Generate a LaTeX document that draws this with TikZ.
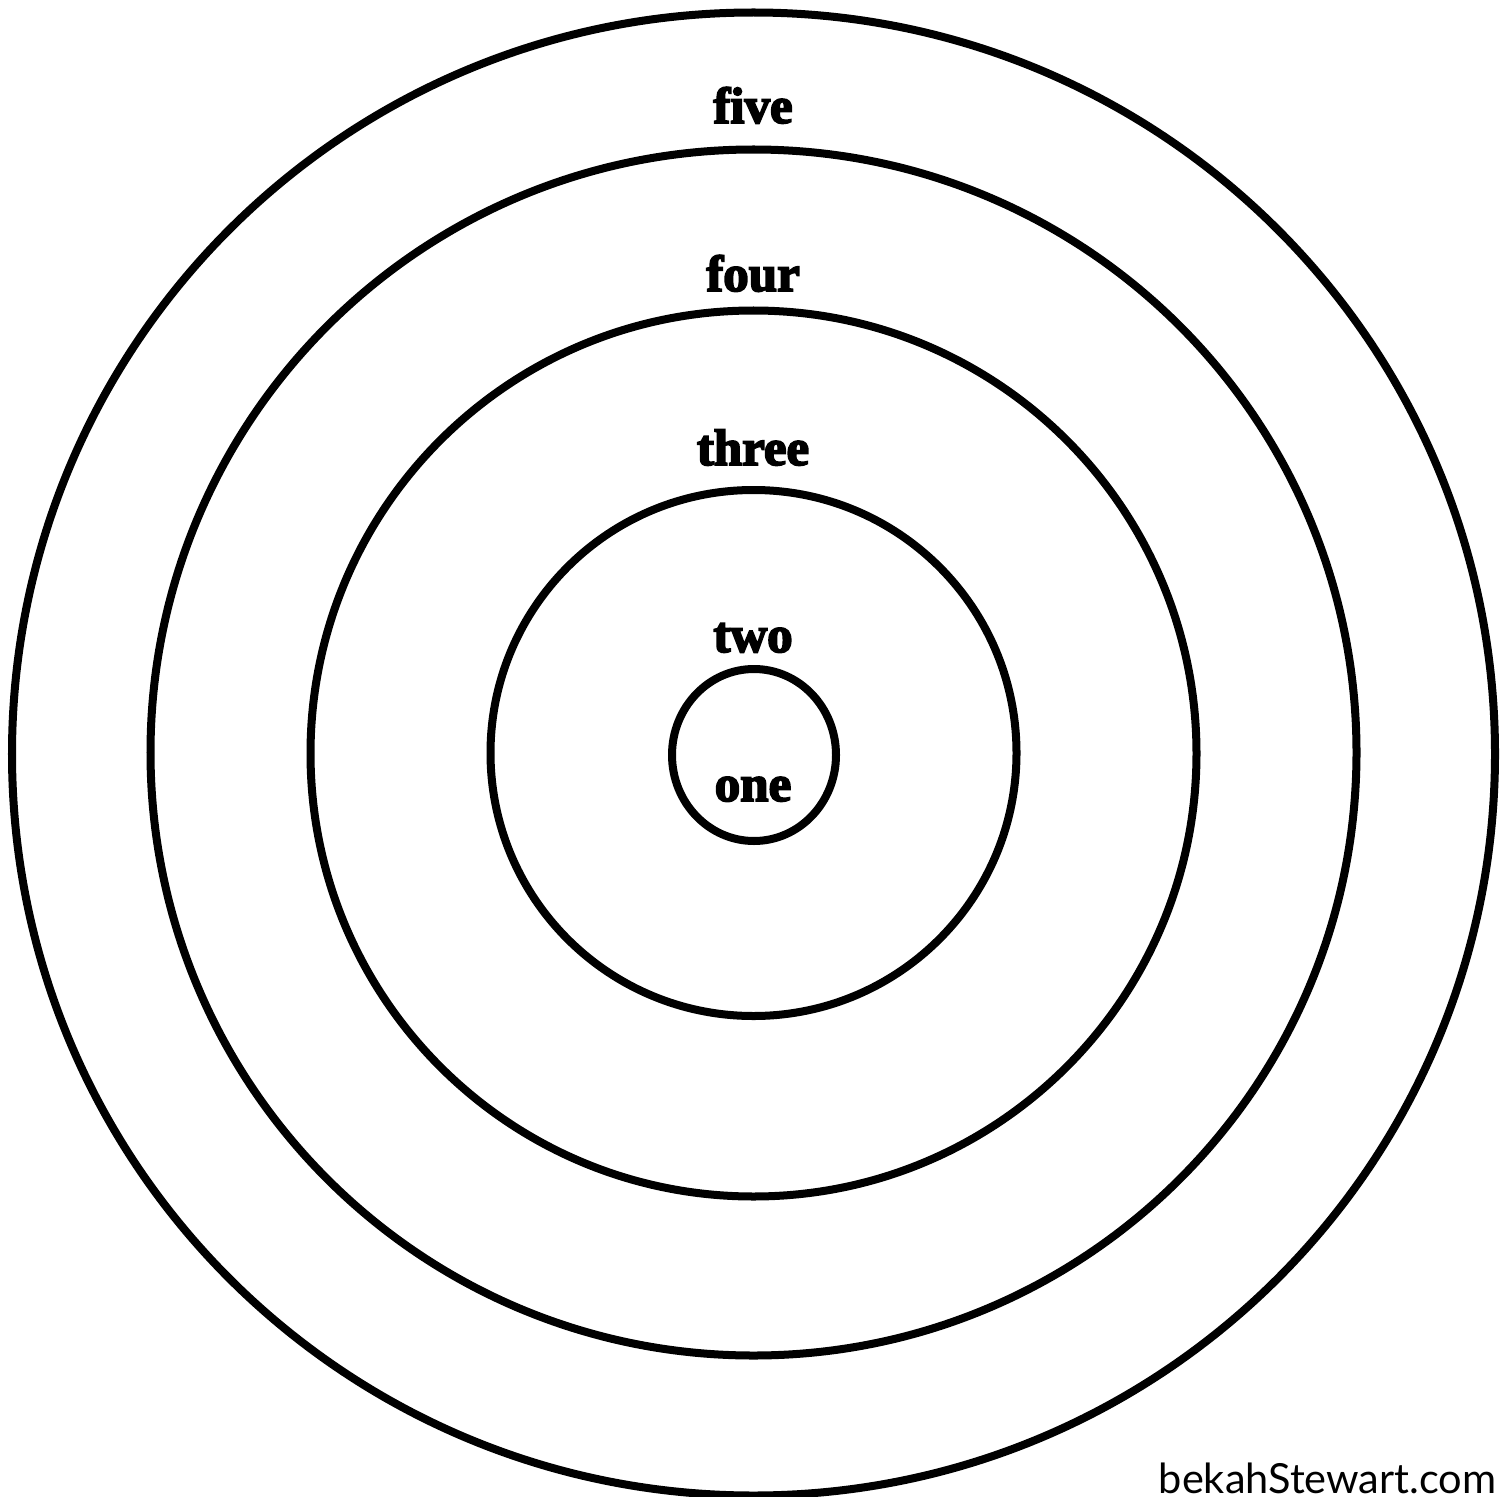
\documentclass[tikz,border=0pt]{standalone}
\usepackage{fontspec}
\newfontfamily\labelfont{Liberation Serif}[BoldFeatures={FakeBold=3.5}]
\newfontfamily\signfont{Lato}
\begin{document}
\begin{tikzpicture}[x=0.01cm,y=-0.01cm,
  ring/.style={draw=black,line width=0.08cm},
  ringlabel/.style={font=\labelfont\bfseries\fontsize{14.5}{16}\selectfont,anchor=base,inner sep=0pt},
  sign/.style={font=\signfont\fontsize{11.8}{14}\selectfont,anchor=base east,inner sep=0pt}]
\useasboundingbox[fill=white] (0,0) rectangle (1512,1497);
\clip (0,0) rectangle (1512,1497);
\coordinate (c) at (753.5,754);
\draw[ring] (c) circle [radius=741.5];
\draw[ring] (753.5,752.5) circle [radius=603];
\draw[ring] (753.5,753.5) circle [radius=443];
\draw[ring] (753.5,753) circle [radius=263];
\draw[ring] (754,755) ellipse [x radius=82, y radius=86];
\node[ringlabel] (five) at (753,123) {five};
\node[ringlabel] (four) at (753,291) {four};
\node[ringlabel] (three) at (753,465) {three};
\node[ringlabel] (two) at (753,652) {two};
\node[ringlabel] (one) at (753,801) {one};
\node[sign] (site) at (1497,1493) {bekahStewart.com};
\end{tikzpicture}
\end{document}
